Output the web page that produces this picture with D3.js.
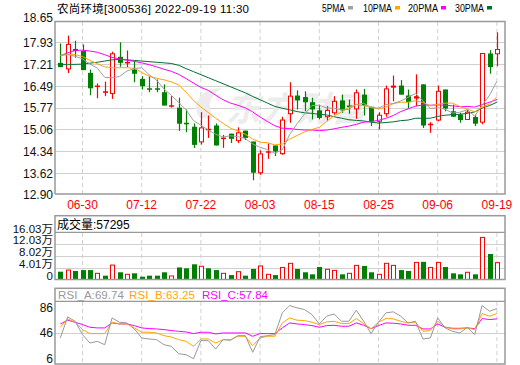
<!DOCTYPE html>
<html>
<head>
<meta charset="utf-8">
<script src="https://cdn.jsdelivr.net/npm/d3@7"></script>
<style>
  body { margin: 0; background: #fff; }
  svg text { font-family: "Liberation Sans", Arial, "Noto Sans CJK SC", sans-serif; }
</style>
</head>
<body>
<svg width="520" height="365"></svg>
<script>
// trading days shown on the chart
var dates = [ "06-27", "06-28", "06-29", "06-30", "07-01", "07-04", "07-05", "07-06", "07-07", "07-08",
  "07-11", "07-12", "07-13", "07-14", "07-15", "07-18", "07-19", "07-20", "07-21", "07-22",
  "07-25", "07-26", "07-27", "07-28", "07-29", "08-01", "08-02", "08-03", "08-04", "08-05",
  "08-08", "08-09", "08-10", "08-11", "08-12", "08-15", "08-16", "08-17", "08-18", "08-19",
  "08-22", "08-23", "08-24", "08-25", "08-26", "08-29", "08-30", "08-31", "09-01", "09-02",
  "09-05", "09-06", "09-07", "09-08", "09-09", "09-13", "09-14", "09-15", "09-16", "09-19" ];
var tickDates = [ "06-30", "07-12", "07-22", "08-03", "08-15", "08-25", "09-06", "09-19" ];
var priceTicks = [ 18.65, 17.93, 17.21, 16.49, 15.77, 15.06, 14.34, 13.62, 12.90 ];
var volTicks = [ 160300, 120300, 80200, 40100, 0 ];
var rsiTicks = [ 86, 46, 6 ];

var open = [ 17.25, 17.05, 17.71, 17.64, 16.92, 16.46, 16.26, 16.24, 17.45, 17.24,
  17.03, 16.72, 16.41, 16.41, 16.28, 15.81, 15.77, 15.27, 15.14, 14.64,
  15.05, 15.18, 14.75, 14.91, 14.68, 15.01, 14.65, 13.62, 14.28, 14.52,
  14.25, 15.57, 16.17, 16.12, 15.95, 15.68, 15.47, 15.60, 16.01, 15.84,
  15.73, 16.20, 15.80, 15.32, 15.57, 16.43, 16.50, 16.17, 16.07, 16.54,
  15.19, 15.36, 16.37, 15.65, 15.54, 15.38, 15.46, 15.29, 17.56, 17.55 ];
var high = [ 17.89, 18.15, 17.98, 17.86, 17.03, 16.57, 16.63, 17.62, 17.93, 17.66,
  17.31, 16.81, 16.81, 16.70, 16.54, 16.15, 16.10, 15.71, 15.25, 15.62,
  15.51, 15.25, 14.87, 14.91, 15.12, 15.01, 14.65, 14.36, 14.59, 14.52,
  15.47, 16.61, 16.34, 16.31, 16.10, 15.87, 15.82, 16.15, 16.20, 16.04,
  16.37, 16.39, 15.80, 15.62, 16.50, 16.83, 16.68, 16.37, 16.87, 16.54,
  15.29, 16.50, 16.37, 15.87, 15.60, 15.71, 15.54, 17.56, 17.67, 18.26 ];
var low = [ 17.11, 16.91, 17.42, 17.01, 16.18, 16.08, 16.15, 16.06, 17.12, 17.11,
  16.61, 16.37, 16.28, 16.28, 15.84, 15.77, 15.00, 14.96, 14.44, 14.55,
  14.77, 14.52, 14.44, 14.60, 14.60, 14.70, 13.37, 13.55, 14.08, 14.17,
  14.21, 15.27, 15.71, 15.65, 15.38, 15.38, 15.32, 15.54, 15.60, 15.57,
  15.40, 15.51, 15.16, 15.05, 15.47, 15.98, 16.20, 15.75, 15.82, 15.10,
  14.94, 15.32, 15.65, 15.47, 15.27, 15.36, 15.16, 15.22, 16.89, 17.14 ];
var close = [ 17.11, 17.86, 17.64, 17.01, 16.41, 16.50, 16.31, 17.55, 17.25, 17.28,
  16.89, 16.48, 16.38, 16.37, 15.84, 15.85, 15.24, 15.22, 14.54, 15.10,
  15.07, 14.52, 14.78, 14.74, 14.94, 14.77, 13.62, 14.24, 14.33, 14.32,
  15.36, 16.15, 16.01, 15.95, 15.71, 15.43, 15.68, 15.98, 15.68, 15.79,
  16.26, 15.84, 15.32, 15.52, 16.39, 16.50, 16.20, 15.95, 16.15, 15.18,
  15.24, 16.31, 15.74, 15.47, 15.36, 15.62, 15.24, 17.56, 17.11, 17.69 ];

var ma5 = [ 17.50, 17.52, 17.47, 17.38, 17.21, 17.08, 16.77, 16.76, 16.80, 16.98,
  17.06, 17.09, 16.86, 16.68, 16.39, 16.18, 15.94, 15.70, 15.34, 15.19,
  15.03, 14.89, 14.80, 14.84, 14.81, 14.75, 14.57, 14.46, 14.38, 14.26,
  14.38, 14.88, 15.24, 15.56, 15.84, 15.85, 15.76, 15.75, 15.70, 15.71,
  15.88, 15.91, 15.78, 15.75, 15.87, 15.91, 15.99, 16.11, 16.24, 16.00,
  15.74, 15.77, 15.72, 15.59, 15.62, 15.70, 15.49, 15.85, 16.18, 16.64 ];
var ma10 = [ 17.50, 17.53, 17.52, 17.46, 17.33, 17.22, 17.12, 17.09, 17.09, 17.09,
  17.07, 16.93, 16.81, 16.74, 16.69, 16.62, 16.52, 16.28, 16.01, 15.79,
  15.61, 15.42, 15.25, 15.09, 15.00, 14.89, 14.73, 14.63, 14.61, 14.54,
  14.57, 14.73, 14.85, 14.97, 15.05, 15.12, 15.32, 15.50, 15.63, 15.78,
  15.87, 15.84, 15.77, 15.73, 15.79, 15.90, 15.95, 15.95, 16.00, 15.94,
  15.83, 15.88, 15.92, 15.92, 15.81, 15.72, 15.63, 15.79, 15.89, 16.13 ];
var ma20 = [ 17.49, 17.58, 17.66, 17.67, 17.64, 17.60, 17.52, 17.43, 17.38, 17.34,
  17.30, 17.25, 17.19, 17.12, 17.04, 16.97, 16.87, 16.73, 16.58, 16.44,
  16.34, 16.18, 16.03, 15.92, 15.85, 15.76, 15.63, 15.46, 15.31, 15.17,
  15.09, 15.08, 15.05, 15.03, 15.03, 15.01, 15.03, 15.07, 15.12, 15.16,
  15.22, 15.29, 15.31, 15.35, 15.42, 15.51, 15.64, 15.73, 15.82, 15.86,
  15.85, 15.86, 15.85, 15.83, 15.80, 15.81, 15.79, 15.87, 15.95, 16.04 ];
var ma30 = [ 17.20, 17.20, 17.20, 17.21, 17.24, 17.27, 17.31, 17.35, 17.36, 17.35,
  17.33, 17.31, 17.29, 17.27, 17.25, 17.23, 17.17, 17.06, 16.96, 16.86,
  16.76, 16.66, 16.56, 16.46, 16.36, 16.26, 16.14, 16.03, 15.92, 15.81,
  15.75, 15.70, 15.64, 15.60, 15.58, 15.55, 15.53, 15.47, 15.42, 15.37,
  15.35, 15.33, 15.29, 15.26, 15.28, 15.30, 15.34, 15.36, 15.42, 15.42,
  15.42, 15.48, 15.52, 15.54, 15.55, 15.58, 15.63, 15.75, 15.84, 15.95 ];

var volume = [ 26500, 32000, 29000, 32000, 32000, 21000, 13000, 49000, 24500, 17600,
  21000, 9500, 13000, 13000, 24500, 12000, 41000, 38000, 51600, 45000,
  38000, 32000, 21000, 15000, 26500, 13000, 35700, 46000, 17600, 15000,
  41000, 55000, 35700, 24500, 17600, 42500, 34600, 31000, 17600, 21000,
  48000, 46000, 24500, 17600, 55000, 48000, 32000, 29000, 58000, 60000,
  41000, 58000, 42500, 21000, 17600, 24500, 17600, 143000, 86600, 57295 ];

var rsiA = [ 38.1, 71.0, 64.2, 43.3, 30.2, 32.8, 27.6, 69.4, 62.7, 61.6,
  52.2, 38.1, 36.5, 35.5, 27.6, 25.0, 13.5, 11.9, 5.6, 33.9,
  33.9, 20.8, 35.5, 34.4, 41.7, 41.7, 15.6, 40.0, 41.7, 43.3,
  77.3, 88.8, 85.1, 82.5, 74.7, 60.0, 72.1, 75.7, 64.2, 64.2,
  81.5, 64.2, 44.9, 62.7, 77.3, 78.9, 72.1, 61.6, 64.2, 36.5,
  38.1, 69.4, 53.8, 48.5, 45.9, 54.8, 43.3, 88.8, 79.9, 84.1 ];
var rsiB = [ 54.8, 67.9, 62.7, 51.2, 44.9, 44.9, 44.9, 62.7, 60.0, 60.0,
  53.8, 47.0, 47.0, 45.9, 41.7, 39.6, 35.5, 32.8, 25.0, 36.5,
  36.5, 30.2, 35.5, 35.5, 40.7, 40.7, 26.0, 38.1, 40.7, 40.7,
  61.6, 69.4, 65.8, 65.3, 62.7, 59.0, 63.2, 64.2, 60.6, 60.6,
  68.4, 60.6, 52.2, 62.7, 68.4, 67.9, 64.2, 61.6, 62.7, 48.5,
  49.6, 64.2, 55.3, 52.2, 52.2, 53.8, 51.2, 76.3, 72.1, 76.3 ];
var rsiC = [ 60.0, 65.8, 62.7, 59.0, 54.8, 53.8, 53.8, 61.6, 60.0, 60.0,
  57.4, 53.8, 52.7, 52.2, 51.2, 49.6, 48.5, 47.5, 44.9, 47.0,
  47.0, 44.4, 45.9, 45.9, 45.9, 45.9, 40.7, 44.9, 44.9, 44.9,
  53.8, 61.6, 60.0, 59.0, 57.4, 54.8, 57.4, 57.9, 56.4, 56.4,
  61.6, 57.9, 52.7, 57.4, 61.6, 61.1, 60.0, 57.9, 57.9, 52.2,
  52.2, 60.0, 54.8, 53.2, 53.2, 53.8, 52.7, 68.4, 66.8, 67.9 ];

var svg = d3.select( "svg" );
var RED = "#ff0000", GREEN = "#008000", GRID = "#d0d0d0", FRAME = "#999999";
var left = 55, right = 505;

//Shared categorical x scale for all three panels
var x = d3.scaleBand().domain( dates ).range( [ 56.6, 500.6 ] );
var cx = function ( i ) { return x( dates[ i ] ) + x.bandwidth() / 2; };
var y = d3.scaleLinear().domain( [ 12.90, 18.65 ] ).range( [ 194.5, 20.5 ] );
var yv = d3.scaleLinear().domain( [ 0, 160300 ] ).range( [ 279.5, 232.3 ] );
var yr = d3.scaleLinear().domain( [ 6, 86 ] ).range( [ 358.5, 307.3 ] );

var idx = d3.range( dates.length );

//vertical dashed grid in each panel
function vgrid( y0, y1 ) {
  svg.append( "g" ).selectAll( "line" )
    .data( tickDates ).enter().append( "line" )
    .attr( "x1", function ( d ) { return x( d ) + x.bandwidth() / 2; } )
    .attr( "x2", function ( d ) { return x( d ) + x.bandwidth() / 2; } )
    .attr( "y1", y0 ).attr( "y2", y1 )
    .attr( "stroke", GRID ).attr( "stroke-dasharray", "4,3" );
}
function hgrid( vals, scale ) {
  svg.append( "g" ).selectAll( "line" )
    .data( vals ).enter().append( "line" )
    .attr( "x1", left ).attr( "x2", right )
    .attr( "y1", function ( d ) { return Math.round( scale( d ) ) + 0.5; } )
    .attr( "y2", function ( d ) { return Math.round( scale( d ) ) + 0.5; } )
    .attr( "stroke", GRID );
}

// ---- price panel ----
hgrid( priceTicks.slice( 1, -1 ), y );
vgrid( 22, 193 );

//watermark
svg.append( "text" )
  .attr( "x", 226 ).attr( "y", 121 )
  .attr( "font-family", "Noto Sans CJK SC" )
  .attr( "font-size", 34 ).attr( "font-weight", "bold" ).attr( "font-style", "italic" )
  .attr( "fill", "#ececec" ).attr( "textLength", 140 )
  .text( "东方财富" );
svg.append( "path" )
  .attr( "d", "M200,118 C190,105 200,88 222,88 C210,95 206,106 214,118 Z" )
  .attr( "fill", "#ececec" );

//candles: wick first, then body
var candles = svg.append( "g" ).selectAll( "g" ).data( idx ).enter().append( "g" );
candles.append( "line" )
  .attr( "x1", function ( i ) { return Math.round( cx( i ) ) + 0.5; } )
  .attr( "x2", function ( i ) { return Math.round( cx( i ) ) + 0.5; } )
  .attr( "y1", function ( i ) { return y( high[ i ] ); } )
  .attr( "y2", function ( i ) { return y( low[ i ] ); } )
  .attr( "stroke", function ( i ) { return close[ i ] >= open[ i ] ? RED : GREEN; } )
  .attr( "stroke-width", 1.2 );
candles.append( "rect" )
  .attr( "x", function ( i ) { return Math.round( cx( i ) ) - 2; } )
  .attr( "width", 5 )
  .attr( "y", function ( i ) { return y( Math.max( open[ i ], close[ i ] ) ); } )
  .attr( "height", function ( i ) { return Math.max( 1.5, Math.abs( y( open[ i ] ) - y( close[ i ] ) ) ); } )
  .attr( "fill", function ( i ) {
    var h = Math.abs( y( open[ i ] ) - y( close[ i ] ) );
    if ( close[ i ] < open[ i ] ) return GREEN;
    return h < 2.5 ? RED : "#fff";
  } )
  .attr( "stroke", function ( i ) {
    var h = Math.abs( y( open[ i ] ) - y( close[ i ] ) );
    return ( close[ i ] >= open[ i ] && h >= 2.5 ) ? RED : "none";
  } )
  .attr( "transform", function ( i ) {
    var h = Math.abs( y( open[ i ] ) - y( close[ i ] ) );
    return ( close[ i ] >= open[ i ] && h >= 2.5 ) ? "translate(0.5,0)" : null;
  } )
  .each( function ( i ) {
    var h = Math.abs( y( open[ i ] ) - y( close[ i ] ) );
    if ( close[ i ] >= open[ i ] && h >= 2.5 ) d3.select( this ).attr( "width", 4 );
  } );

//moving averages
var maLine = function ( arr ) {
  return d3.line().x( function ( i ) { return cx( i ); } ).y( function ( i ) { return y( arr[ i ] ); } )( idx );
};
[ [ ma30, "#006f33" ], [ ma20, "#ff00ff" ], [ ma10, "#ffa500" ], [ ma5, "#a0a0a0" ] ].forEach( function ( m ) {
  svg.append( "path" ).attr( "d", maLine( m[ 0 ] ) )
    .attr( "fill", "none" ).attr( "stroke", m[ 1 ] ).attr( "stroke-width", 1 );
} );

//frame
svg.append( "path" )
  .attr( "d", "M" + left + ",194 V21.5 H" + right + " V194 H" + left )
  .attr( "fill", "none" ).attr( "stroke", FRAME ).attr( "stroke-width", 1.5 );

//price axis
var yAxis = svg.append( "g" )
  .attr( "transform", "translate(" + left + ",0)" )
  .call( d3.axisLeft( y ).tickValues( priceTicks ).tickSize( 0 ).tickPadding( 2 ).tickFormat( d3.format( ".2f" ) ) );
yAxis.select( ".domain" ).remove();
yAxis.selectAll( "text" ).attr( "font-size", 12 ).attr( "fill", "#111" )
  .attr( "font-family", "Liberation Sans, Arial, sans-serif" )
  .attr( "dy", function ( d ) { return d === 18.65 ? "0.05em" : "0.36em"; } );

//date axis
var xAxis = svg.append( "g" )
  .attr( "transform", "translate(0,194)" )
  .call( d3.axisBottom( x ).tickValues( tickDates ).tickSize( 0 ).tickPadding( 6 ) );
xAxis.select( ".domain" ).remove();
xAxis.selectAll( "text" ).attr( "font-size", 12 ).attr( "fill", RED )
  .attr( "font-family", "Liberation Sans, Arial, sans-serif" );

//title + legend
svg.append( "text" ).attr( "x", 57 ).attr( "y", 12.5 )
  .attr( "font-size", 11.5 ).attr( "fill", "#000" ).attr( "textLength", 192 )
  .attr( "font-family", "Liberation Sans, Noto Sans CJK SC, sans-serif" )
  .text( "农尚环境[300536] 2022-09-19 11:30" );
var legend = [ [ "5PMA", 322, 23, "#a0a0a0" ], [ "10PMA", 363, 29, "#ffa500" ],
  [ "20PMA", 408, 30, "#ff00ff" ], [ "30PMA", 455, 29, "#006f33" ] ];
legend.forEach( function ( l ) {
  svg.append( "text" ).attr( "x", l[ 1 ] ).attr( "y", 11.5 )
    .attr( "font-size", 10 ).attr( "fill", "#000" ).attr( "textLength", l[ 2 ] )
    .attr( "lengthAdjust", "spacingAndGlyphs" )
    .text( l[ 0 ] );
  svg.append( "rect" ).attr( "x", l[ 1 ] + l[ 2 ] + 3 ).attr( "y", 6 )
    .attr( "width", 5 ).attr( "height", 3.5 ).attr( "fill", l[ 3 ] );
} );

// ---- volume panel ----
hgrid( volTicks.slice( 1, -1 ), yv );
vgrid( 233, 279 );
var up = function ( i ) { return i > 0 ? close[ i ] > close[ i - 1 ] : close[ i ] >= open[ i ]; };
svg.append( "g" ).selectAll( "rect" ).data( idx ).enter().append( "rect" )
  .attr( "x", function ( i ) { return Math.round( cx( i ) ) - ( up( i ) ? 1.5 : 2 ); } )
  .attr( "width", function ( i ) { return up( i ) ? 4 : 5; } )
  .attr( "y", function ( i ) { return yv( volume[ i ] ); } )
  .attr( "height", function ( i ) { return yv( 0 ) - yv( volume[ i ] ); } )
  .attr( "fill", function ( i ) { return up( i ) ? "#fff" : GREEN; } )
  .attr( "stroke", function ( i ) { return up( i ) ? RED : "none"; } );
svg.append( "rect" ).attr( "x", left ).attr( "y", 215.7 ).attr( "width", right - left ).attr( "height", 63.8 )
  .attr( "fill", "none" ).attr( "stroke", FRAME ).attr( "stroke-width", 1.5 );
svg.append( "line" ).attr( "x1", left ).attr( "x2", right ).attr( "y1", 232.3 ).attr( "y2", 232.3 )
  .attr( "stroke", FRAME ).attr( "stroke-width", 1.2 );
svg.append( "text" ).attr( "x", 57 ).attr( "y", 228.5 ).attr( "font-size", 12 )
  .attr( "font-family", "Liberation Sans, Noto Sans CJK SC, sans-serif" )
  .text( "成交量:57295" );
var vAxis = svg.append( "g" )
  .attr( "transform", "translate(" + left + ",0)" )
  .call( d3.axisLeft( yv ).tickValues( volTicks ).tickSize( 0 ).tickPadding( 2 )
    .tickFormat( function ( d ) { return d === 0 ? "0" : ( d / 10000 ).toFixed( 2 ) + "万"; } ) );
vAxis.select( ".domain" ).remove();
vAxis.selectAll( "text" ).attr( "font-size", 11.5 ).attr( "fill", "#111" ).attr( "dy", "-0.02em" )
  .attr( "font-family", "Liberation Sans, Noto Sans CJK SC, sans-serif" );

// ---- RSI panel ----
hgrid( [ 46 ], yr );
vgrid( 302, 363 );
[ [ rsiC, "#ff00ff" ], [ rsiB, "#ffa500" ], [ rsiA, "#999999" ] ].forEach( function ( r ) {
  svg.append( "path" )
    .attr( "d", d3.line().x( function ( i ) { return cx( i ); } ).y( function ( i ) { return yr( r[ 0 ][ i ] ); } )( idx ) )
    .attr( "fill", "none" ).attr( "stroke", r[ 1 ] ).attr( "stroke-width", 1 );
} );
svg.append( "rect" ).attr( "x", left ).attr( "y", 288.3 ).attr( "width", right - left ).attr( "height", 75.7 )
  .attr( "fill", "none" ).attr( "stroke", FRAME ).attr( "stroke-width", 1.5 );
svg.append( "line" ).attr( "x1", left ).attr( "x2", right ).attr( "y1", 301.3 ).attr( "y2", 301.3 )
  .attr( "stroke", FRAME ).attr( "stroke-width", 1.2 );
[ [ "RSI_A:69.74", 58, "#999999" ], [ "RSI_B:63.25", 129, "#ffa500" ], [ "RSI_C:57.84", 202, "#ff00ff" ] ].forEach( function ( t ) {
  svg.append( "text" ).attr( "x", t[ 1 ] ).attr( "y", 299 ).attr( "font-size", 11.5 )
    .attr( "fill", t[ 2 ] ).attr( "textLength", 66 ).text( t[ 0 ] );
} );
var rAxis = svg.append( "g" )
  .attr( "transform", "translate(" + left + ",0)" )
  .call( d3.axisLeft( yr ).tickValues( rsiTicks ).tickSize( 0 ).tickPadding( 2 ) );
rAxis.select( ".domain" ).remove();
rAxis.selectAll( "text" ).attr( "font-size", 12 ).attr( "fill", "#111" )
  .attr( "font-family", "Liberation Sans, Arial, sans-serif" );
</script>
</body>
</html>
